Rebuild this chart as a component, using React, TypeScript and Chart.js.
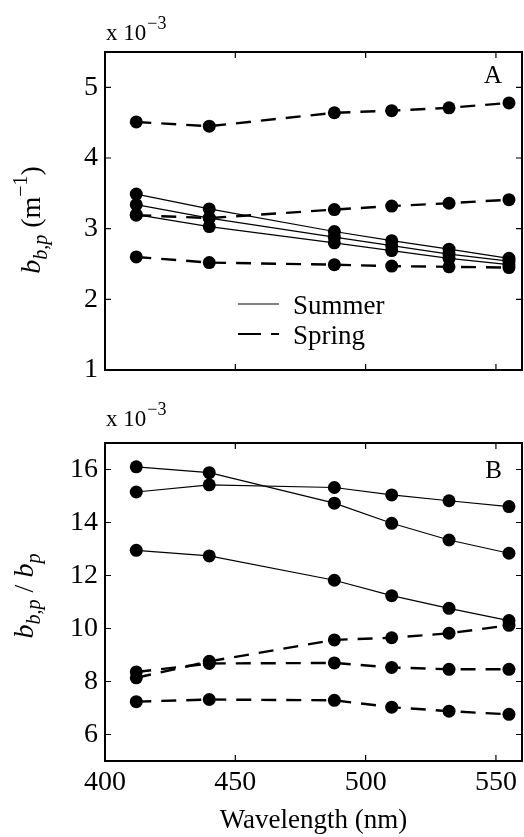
import React, { useEffect, useRef } from "react";
import { Chart, registerables } from "chart.js";

Chart.register(...registerables);

// ---------- data ----------
const wavelengths = [412, 440, 488, 510, 532, 555];
const xTicks = [400, 450, 500, 550];
const yTicksA = [1, 2, 3, 4, 5];
const yTicksB = [6, 8, 10, 12, 14, 16];

// Panel A: b_bp (x 10^-3 m^-1)
const summerA1 = [3.49, 3.28, 2.96, 2.83, 2.71, 2.58];
const summerA2 = [3.34, 3.15, 2.88, 2.76, 2.64, 2.54];
const summerA3 = [3.2, 3.03, 2.8, 2.69, 2.58, 2.49];
const springA1 = [4.51, 4.45, 4.64, 4.67, 4.71, 4.78];
const springA2 = [3.19, 3.15, 3.27, 3.32, 3.36, 3.41];
const springA3 = [2.6, 2.52, 2.49, 2.47, 2.46, 2.45];

// Panel B: b_bp / b_p (x 10^-3)
const summerB1 = [16.1, 15.88, 14.73, 13.97, 13.34, 12.84];
const summerB2 = [15.15, 15.42, 15.32, 15.04, 14.82, 14.6];
const summerB3 = [12.95, 12.74, 11.82, 11.24, 10.76, 10.3];
const springB1 = [8.14, 8.76, 9.57, 9.65, 9.82, 10.12];
const springB2 = [8.36, 8.68, 8.7, 8.53, 8.46, 8.46];
const springB3 = [7.24, 7.32, 7.29, 7.03, 6.88, 6.76];

const legendLabels = ["Summer", "Spring"];
const xTitle = "Wavelength (nm)";

const SERIF = '"Liberation Serif", "Times New Roman", Times, serif';

type Seg = { t: string; size: number; italic?: boolean; dy?: number };

function drawRich(ctx: CanvasRenderingContext2D, segs: Seg[], x: number, y: number) {
  const font = (s: Seg) => `${s.italic ? "italic " : ""}${s.size}px ${SERIF}`;
  let total = 0;
  const widths = segs.map((s) => {
    ctx.font = font(s);
    const w = ctx.measureText(s.t).width;
    total += w;
    return w;
  });
  ctx.save();
  ctx.translate(x, y);
  ctx.rotate(-Math.PI / 2);
  ctx.textAlign = "left";
  ctx.textBaseline = "alphabetic";
  let cx = -total / 2;
  segs.forEach((s, i) => {
    ctx.font = font(s);
    ctx.fillText(s.t, cx, s.dy || 0);
    cx += widths[i];
  });
  ctx.restore();
}

const framePlugin = {
  id: "frame",
  afterDraw(chart: any, _args: any, opts: any) {
    const ctx: CanvasRenderingContext2D = chart.ctx;
    const a = chart.chartArea;
    const xs = chart.scales.x;
    const ys = chart.scales.y;
    ctx.save();
    ctx.strokeStyle = "#000";
    ctx.fillStyle = "#000";
    const tl = 6;
    ctx.lineWidth = 1.2;
    ctx.beginPath();
    for (const t of xs.ticks) {
      const p = xs.getPixelForValue(t.value);
      ctx.moveTo(p, a.bottom);
      ctx.lineTo(p, a.bottom - tl);
      ctx.moveTo(p, a.top);
      ctx.lineTo(p, a.top + tl);
    }
    for (const t of ys.ticks) {
      const p = ys.getPixelForValue(t.value);
      ctx.moveTo(a.left, p);
      ctx.lineTo(a.left + tl, p);
      ctx.moveTo(a.right, p);
      ctx.lineTo(a.right - tl, p);
    }
    ctx.stroke();
    ctx.lineWidth = 2;
    ctx.strokeRect(a.left, a.top, a.right - a.left, a.bottom - a.top);

    // exponent label
    ctx.textAlign = "left";
    ctx.textBaseline = "alphabetic";
    ctx.font = `23px ${SERIF}`;
    const base = "x 10";
    const by = a.top - opts.expDy;
    ctx.fillText(base, a.left + 1, by);
    const w = ctx.measureText(base).width;
    ctx.font = `18px ${SERIF}`;
    ctx.fillText("\u22123", a.left + 1 + w + 1, by - 11);

    // panel letter
    ctx.font = `25px ${SERIF}`;
    ctx.textAlign = "right";
    ctx.fillText(opts.letter, 502, a.top + opts.letterDy);

    // y label
    drawRich(ctx, opts.ylabel, opts.ylabelX, (a.top + a.bottom) / 2 + opts.ylabelDy);

    // legend
    if (opts.legend) {
      const lx0 = 238;
      const lx1 = 279;
      const y1 = 304;
      const y2 = 334;
      ctx.lineWidth = 1.2;
      ctx.beginPath();
      ctx.moveTo(lx0, y1);
      ctx.lineTo(lx1, y1);
      ctx.stroke();
      ctx.lineWidth = 2.2;
      ctx.setLineDash([23, 10]);
      ctx.beginPath();
      ctx.moveTo(lx0, y2);
      ctx.lineTo(lx1, y2);
      ctx.stroke();
      ctx.setLineDash([]);
      ctx.font = `27px ${SERIF}`;
      ctx.textAlign = "left";
      ctx.textBaseline = "alphabetic";
      ctx.fillText(legendLabels[0], 293, y1 + 10);
      ctx.fillText(legendLabels[1], 293, y2 + 10);
    }
    ctx.restore();
  },
};

function solid(data: number[]) {
  return {
    data: data.map((v, i) => ({ x: wavelengths[i], y: v })),
    borderColor: "#000",
    borderWidth: 1.2,
    pointRadius: 6.5,
    pointBackgroundColor: "#000",
    pointBorderWidth: 0,
    fill: false,
    tension: 0,
  };
}
function dashed(data: number[]) {
  return { ...solid(data), borderWidth: 2.4, borderDash: [15, 10] };
}

type PanelDef = {
  letter: string;
  height: number;
  top: number;
  xHeight: number;
  yMin: number;
  yMax: number;
  yTicks: number[];
  summer: number[][];
  spring: number[][];
  showX: boolean;
  ylabel: Seg[];
  ylabelX: number;
  ylabelDy: number;
  letterDy: number;
  expDy: number;
  legend: boolean;
};

const panelA: PanelDef = {
  letter: "A",
  height: 400,
  top: 52,
  xHeight: 30,
  yMin: 1,
  yMax: 5.5,
  yTicks: yTicksA,
  summer: [summerA1, summerA2, summerA3],
  spring: [springA1, springA2, springA3],
  showX: false,
  ylabel: [
    { t: "b", size: 28, italic: true },
    { t: "b,p", size: 20, italic: true, dy: 7 },
    { t: " (m", size: 28 },
    { t: "\u22121", size: 20, dy: -13 },
    { t: ")", size: 28 },
  ],
  ylabelX: 40,
  ylabelDy: 9,
  letterDy: 31,
  expDy: 12,
  legend: true,
};

const panelB: PanelDef = {
  letter: "B",
  height: 437,
  top: 43,
  xHeight: 76,
  yMin: 5,
  yMax: 17,
  yTicks: yTicksB,
  summer: [summerB1, summerB2, summerB3],
  spring: [springB1, springB2, springB3],
  showX: true,
  ylabel: [
    { t: "b", size: 28, italic: true },
    { t: "b,p", size: 20, italic: true, dy: 7 },
    { t: " / ", size: 28 },
    { t: "b", size: 28, italic: true },
    { t: "p", size: 20, italic: true, dy: 7 },
  ],
  ylabelX: 33,
  ylabelDy: -6,
  letterDy: 35,
  expDy: 17,
  legend: false,
};

function Panel({ def }: { def: PanelDef }) {
  const ref = useRef<HTMLCanvasElement>(null);
  useEffect(() => {
    if (!ref.current) return;
    const chart = new Chart(ref.current, {
      type: "line",
      data: {
        datasets: [...def.summer.map(solid), ...def.spring.map(dashed)] as any,
      },
      plugins: [framePlugin as any],
      options: {
        responsive: false,
        animation: false,
        events: [],
        layout: { autoPadding: false, padding: { top: def.top, right: 2, left: 0, bottom: 0 } },
        plugins: {
          legend: { display: false },
          tooltip: { enabled: false },
          frame: {
            letter: def.letter,
            letterDy: def.letterDy,
            expDy: def.expDy,
            ylabel: def.ylabel,
            ylabelX: def.ylabelX,
            ylabelDy: def.ylabelDy,
            legend: def.legend,
          },
        } as any,
        scales: {
          x: {
            type: "linear",
            position: "bottom",
            min: 400,
            max: 560,
            grid: { display: false, drawTicks: false },
            border: { display: false },
            afterBuildTicks: (s: any) => {
              s.ticks = xTicks.map((v) => ({ value: v }));
            },
            afterFit: (s: any) => {
              s.height = def.xHeight;
            },
            ticks: {
              display: def.showX,
              color: "#000",
              padding: 5,
              maxRotation: 0,
              autoSkip: false,
              font: { family: SERIF, size: 28 },
            },
            title: {
              display: def.showX,
              text: xTitle,
              color: "#000",
              padding: { top: 0, bottom: 0 },
              font: { family: SERIF, size: 27 },
            },
          },
          y: {
            type: "linear",
            min: def.yMin,
            max: def.yMax,
            grid: { display: false, drawTicks: false },
            border: { display: false },
            afterBuildTicks: (s: any) => {
              s.ticks = def.yTicks.map((v) => ({ value: v }));
            },
            afterFit: (s: any) => {
              s.width = 105;
            },
            ticks: {
              color: "#000",
              padding: 7,
              autoSkip: false,
              font: { family: SERIF, size: 28 },
            },
          },
        },
      } as any,
    });
    return () => chart.destroy();
  }, [def]);
  return <canvas ref={ref} width={524} height={def.height} style={{ display: "block" }} />;
}

export default function App() {
  return (
    <div style={{ position: "absolute", left: 0, top: 0, width: 524, height: 837, background: "#fff" }}>
      <Panel def={panelA} />
      <Panel def={panelB} />
    </div>
  );
}
